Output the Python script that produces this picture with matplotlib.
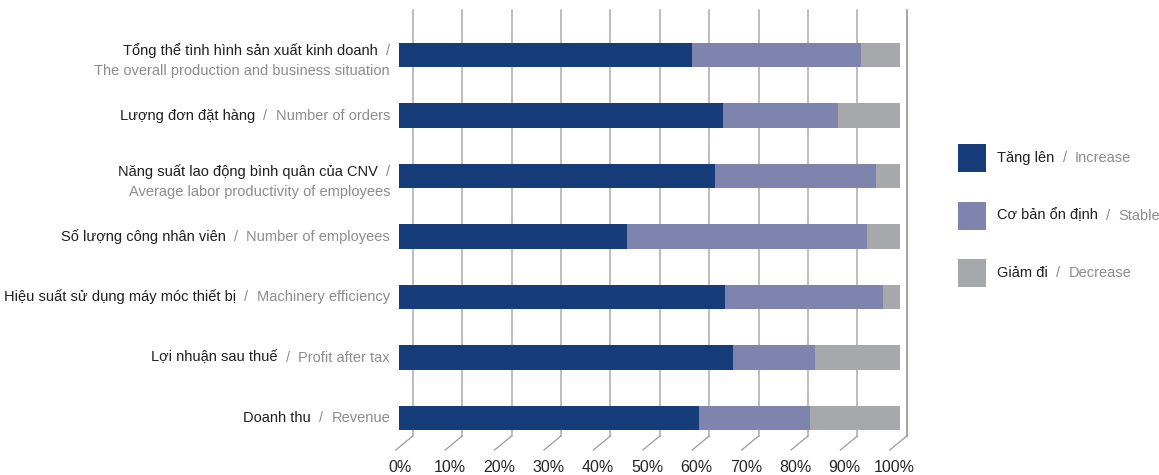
import matplotlib
matplotlib.use('Agg')
import matplotlib.pyplot as plt
from matplotlib.lines import Line2D
from matplotlib.patches import Rectangle
from matplotlib.offsetbox import TextArea, HPacker, VPacker, AnnotationBbox

plt.rcParams['font.family'] = ['Liberation Sans Narrow', 'Liberation Sans', 'DejaVu Sans']

# categories, top to bottom: (Vietnamese, English, wrap onto two lines)
cat_vi = ['Tổng thể tình hình sản xuất kinh doanh', 'Lượng đơn đặt hàng',
          'Năng suất lao động bình quân của CNV', 'Số lượng công nhân viên',
          'Hiệu suất sử dụng máy móc thiết bị', 'Lợi nhuận sau thuế', 'Doanh thu']
cat_en = ['The overall production and business situation', 'Number of orders',
          'Average labor productivity of employees', 'Number of employees',
          'Machinery efficiency', 'Profit after tax', 'Revenue']
two_line = [True, False, True, False, False, False, False]

# shares in %
increase = [58.4, 64.6, 63.0, 45.5, 65.1, 66.7, 59.9]
stable = [33.8, 23.0, 32.2, 47.9, 31.5, 16.3, 22.1]
decrease = [7.8, 12.4, 4.8, 6.6, 3.4, 17.0, 18.0]

series_vi = ['Tăng lên', 'Cơ bản ổn định', 'Giảm đi']
series_en = ['Increase', 'Stable', 'Decrease']
colors = ['#173c7a', '#7f84ae', '#a7a8ab']
ticks = [0, 10, 20, 30, 40, 50, 60, 70, 80, 90, 100]

DARK = '#1e1e1e'
GREY = '#8c8c8c'
FS = 10.5

W, H = 1159, 475
fig = plt.figure(figsize=(W / 100, H / 100), dpi=100)

top_px, bot_px = 10, 436
ax_b = (H - bot_px) / H
ax_h = (bot_px - top_px) / H

# back wall with the grid, shifted right of the bars
wall = fig.add_axes([412.8 / W, ax_b, 494 / W, ax_h])
wall.set_xlim(0, 100)
wall.set_ylim(0, 1)
wall.axis('off')
depth = 3.44          # x shift from back wall to front, in wall units
drop = 14 / (bot_px - top_px)
for t in ticks:
    c = '#8e8e8e' if t == 100 else '#ababab'
    wall.axvline(t, color=c, lw=1.1, zorder=1, clip_on=False)
    wall.add_line(Line2D([t, t - depth], [0, -drop], color='#9a9a9a', lw=0.9,
                         transform=wall.get_xaxis_transform(), clip_on=False))
    wall.text(t - 2.59, -31 / (bot_px - top_px), f'{t}%', transform=wall.get_xaxis_transform(),
              ha='center', va='center', fontsize=11.5, color='#262626')

# bars on the front plane
ax = fig.add_axes([399 / W, ax_b, 501 / W, ax_h])
ax.patch.set_alpha(0)
rows = list(range(len(cat_vi)))
left = [0] * len(rows)
for vals, col in zip([increase, stable, decrease], colors):
    ax.barh(rows, vals, left=left, height=0.4, color=col, linewidth=0)
    left = [l + v for l, v in zip(left, vals)]
ax.set_xlim(0, 100)
ax.set_ylim(6 + 18 / 60.5, -45 / 60.5)
ax.axis('off')

# category labels, right aligned left of the chart
lab_x = 390 / W
for r, vi, en, two in zip(rows, cat_vi, cat_en, two_line):
    if two:
        line1 = HPacker(children=[TextArea(vi, textprops=dict(color=DARK, fontsize=FS)),
                                  TextArea('/', textprops=dict(color=GREY, fontsize=FS))],
                        pad=0, sep=6, align='baseline')
        line2 = TextArea(en, textprops=dict(color=GREY, fontsize=FS))
        box = VPacker(children=[line1, line2], pad=0, sep=4, align='right')
        dy = 4
    else:
        box = HPacker(children=[TextArea(vi, textprops=dict(color=DARK, fontsize=FS)),
                                TextArea('/', textprops=dict(color=GREY, fontsize=FS)),
                                TextArea(en, textprops=dict(color=GREY, fontsize=FS))],
                      pad=0, sep=6, align='baseline')
        dy = 0
    ab = AnnotationBbox(box, (lab_x, r), xycoords=('figure fraction', 'data'),
                        xybox=(0, -dy), boxcoords='offset points',
                        box_alignment=(1, 0.5), frameon=False, annotation_clip=False)
    ax.add_artist(ab)

# legend
for i, (vi, en, col) in enumerate(zip(series_vi, series_en, colors)):
    y_top = 144 + i * 57.5
    fig.patches.append(Rectangle((958 / W, 1 - (y_top + 28) / H), 28 / W, 28 / H,
                                 transform=fig.transFigure, color=col, linewidth=0))
    box = HPacker(children=[TextArea(vi, textprops=dict(color=DARK, fontsize=FS)),
                            TextArea('/', textprops=dict(color=GREY, fontsize=FS)),
                            TextArea(en, textprops=dict(color=GREY, fontsize=FS))],
                  pad=0, sep=6, align='baseline')
    ab = AnnotationBbox(box, (997 / W, 1 - (y_top + 14) / H), xycoords='figure fraction',
                        box_alignment=(0, 0.5), frameon=False, annotation_clip=False)
    fig.add_artist(ab)

fig.savefig('out.png', dpi=100)
